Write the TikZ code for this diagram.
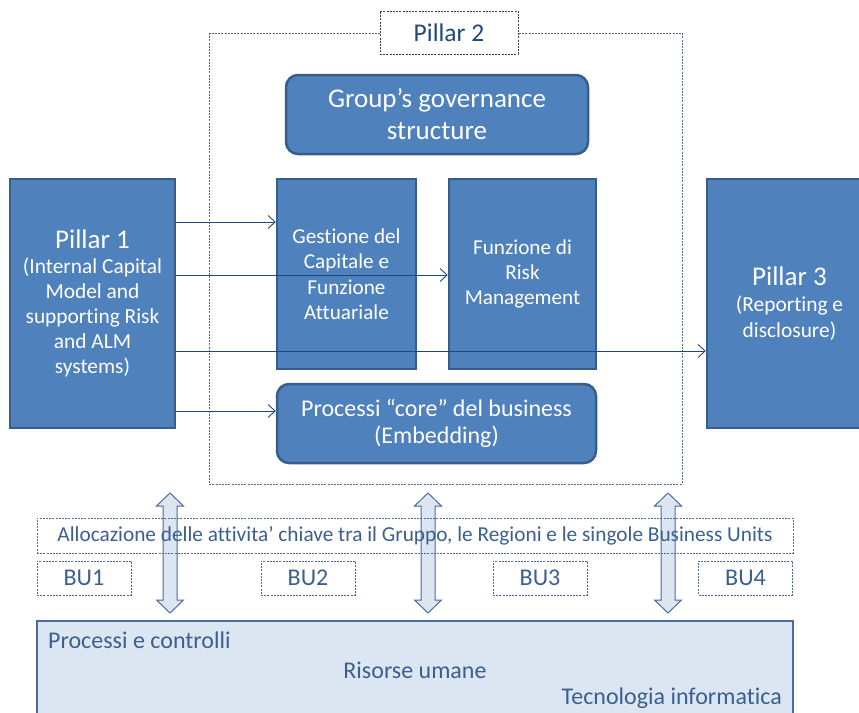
\documentclass[tikz,border=0pt]{standalone}
\usepackage{fontspec}
\setmainfont{Carlito}[Ligatures=NoCommon]
\usepackage{xcolor}
\usetikzlibrary{arrows.meta}

\definecolor{boxfill}{HTML}{4F81BD}
\definecolor{boxline}{HTML}{385D8A}
\definecolor{darkblue}{HTML}{1F497D}
\definecolor{textblue}{HTML}{3B5F8E}
\definecolor{lightfill}{HTML}{DCE6F2}
\definecolor{dashblue}{HTML}{4A6C9B}

\tikzset{
  bluebox/.style={draw=boxline, fill=boxfill, line width=2.5pt, text=white,
    align=center, inner sep=2pt},
  roundbox/.style={bluebox, rounded corners=12pt},
  dashbox/.style={draw=dashblue, dash pattern=on 2pt off 1.2pt, line width=0.8pt,
    text=textblue, align=center, inner sep=0pt},
  link/.style={draw=darkblue, line width=0.9pt,
    -{Straight Barb[length=7pt,width=13pt]}},
  bigarrow/.style={draw=dashblue, fill=lightfill, line width=1pt},
}

\begin{document}
\begin{tikzpicture}[x=1pt,y=-1pt]
\useasboundingbox (0,0) rectangle (859,712);

% Pillar 2 frame
\draw[draw=dashblue, dash pattern=on 2pt off 1.2pt, line width=0.8pt] (209,33) rectangle (682,484);
\node[draw=black!75, dash pattern=on 2pt off 1.2pt, line width=0.8pt, fill=white,
  text=darkblue, minimum width=138pt, minimum height=43pt,
  font=\fontsize{25.5}{28}\selectfont] (p2label) at (449,32.5) {Pillar 2};

% blue boxes
\node[roundbox, minimum width=302pt, minimum height=79pt,
  font=\fontsize{27}{32}\selectfont] (governance) at (437,114.5)
  {Group's governance\\ structure};
\node[bluebox, minimum width=165pt, minimum height=249pt,
  font=\fontsize{21.4}{25}\selectfont] (pillar1) at (92.5,303.5)
  {{\fontsize{27}{30}\selectfont Pillar 1}\\ (Internal Capital\\ Model and\\ supporting Risk\\ and ALM\\ systems)};
\node[bluebox, minimum width=139pt, minimum height=190pt,
  font=\fontsize{21.2}{25.5}\selectfont] (gestione) at (346.5,274)
  {Gestione del\\ Capitale e\\ Funzione\\ Attuariale};
\node[bluebox, minimum width=147pt, minimum height=190pt,
  font=\fontsize{21.2}{25}\selectfont] (riskfn) at (522.5,274)
  {Funzione di\\ Risk\\ Management};
\node[bluebox, minimum width=165pt, minimum height=249pt,
  font=\fontsize{21.4}{26}\selectfont] (pillar3) at (789.5,303.5)
  {{\fontsize{27}{30}\selectfont Pillar 3}\\ (Reporting e\\ disclosure)};
\node[roundbox, minimum width=319pt, minimum height=79pt,
  font=\fontsize{24}{27}\selectfont] (processi) at (436.5,423.5)
  {Processi ``core'' del business\\ (Embedding)};

% links from Pillar 1
\draw[link] (pillar1.east |- 0,222) -- (gestione.west |- 0,222);
\draw[link] (pillar1.east |- 0,275) -- (riskfn.west |- 0,275);
\draw[link] (pillar1.east |- 0,351) -- (pillar3.west |- 0,351);
\draw[link] (pillar1.east |- 0,411) -- (processi.west |- 0,411);

% double arrows
\foreach \xc in {170,428,668}
  \draw[bigarrow] (\xc,493) -- (\xc+13.5,506) -- (\xc+7,506) -- (\xc+7,600)
    -- (\xc+13.5,600) -- (\xc,613) -- (\xc-13.5,600) -- (\xc-7,600)
    -- (\xc-7,506) -- (\xc-13.5,506) -- cycle;

% allocation and business units
\node[dashbox, minimum width=756pt, minimum height=35pt,
  font=\fontsize{21.3}{24}\selectfont] (alloc) at (415,535.5)
  {Allocazione delle attivita' chiave tra il Gruppo, le Regioni e le singole Business Units};
\foreach \name/\xc/\lbl in {bu1/84/BU1, bu2/308/BU2, bu3/540/BU3, bu4/745.5/BU4}
  \node[dashbox, minimum width=94pt, minimum height=34pt,
    font=\fontsize{24}{26}\selectfont] (\name) at (\xc,578) {\lbl};

% bottom layer
\draw[draw=dashblue, fill=lightfill, line width=1.2pt] (37,621) rectangle (793,740);
\node[text=textblue, anchor=west, inner sep=0pt, font=\fontsize{24}{26}\selectfont]
  (controlli) at (48,640) {Processi e controlli};
\node[text=textblue, inner sep=0pt, font=\fontsize{24}{26}\selectfont]
  (risorse) at (415,670) {Risorse umane};
\node[text=textblue, anchor=east, inner sep=0pt, font=\fontsize{24}{26}\selectfont]
  (tecnologia) at (782,698) {Tecnologia informatica};
\end{tikzpicture}
\end{document}
